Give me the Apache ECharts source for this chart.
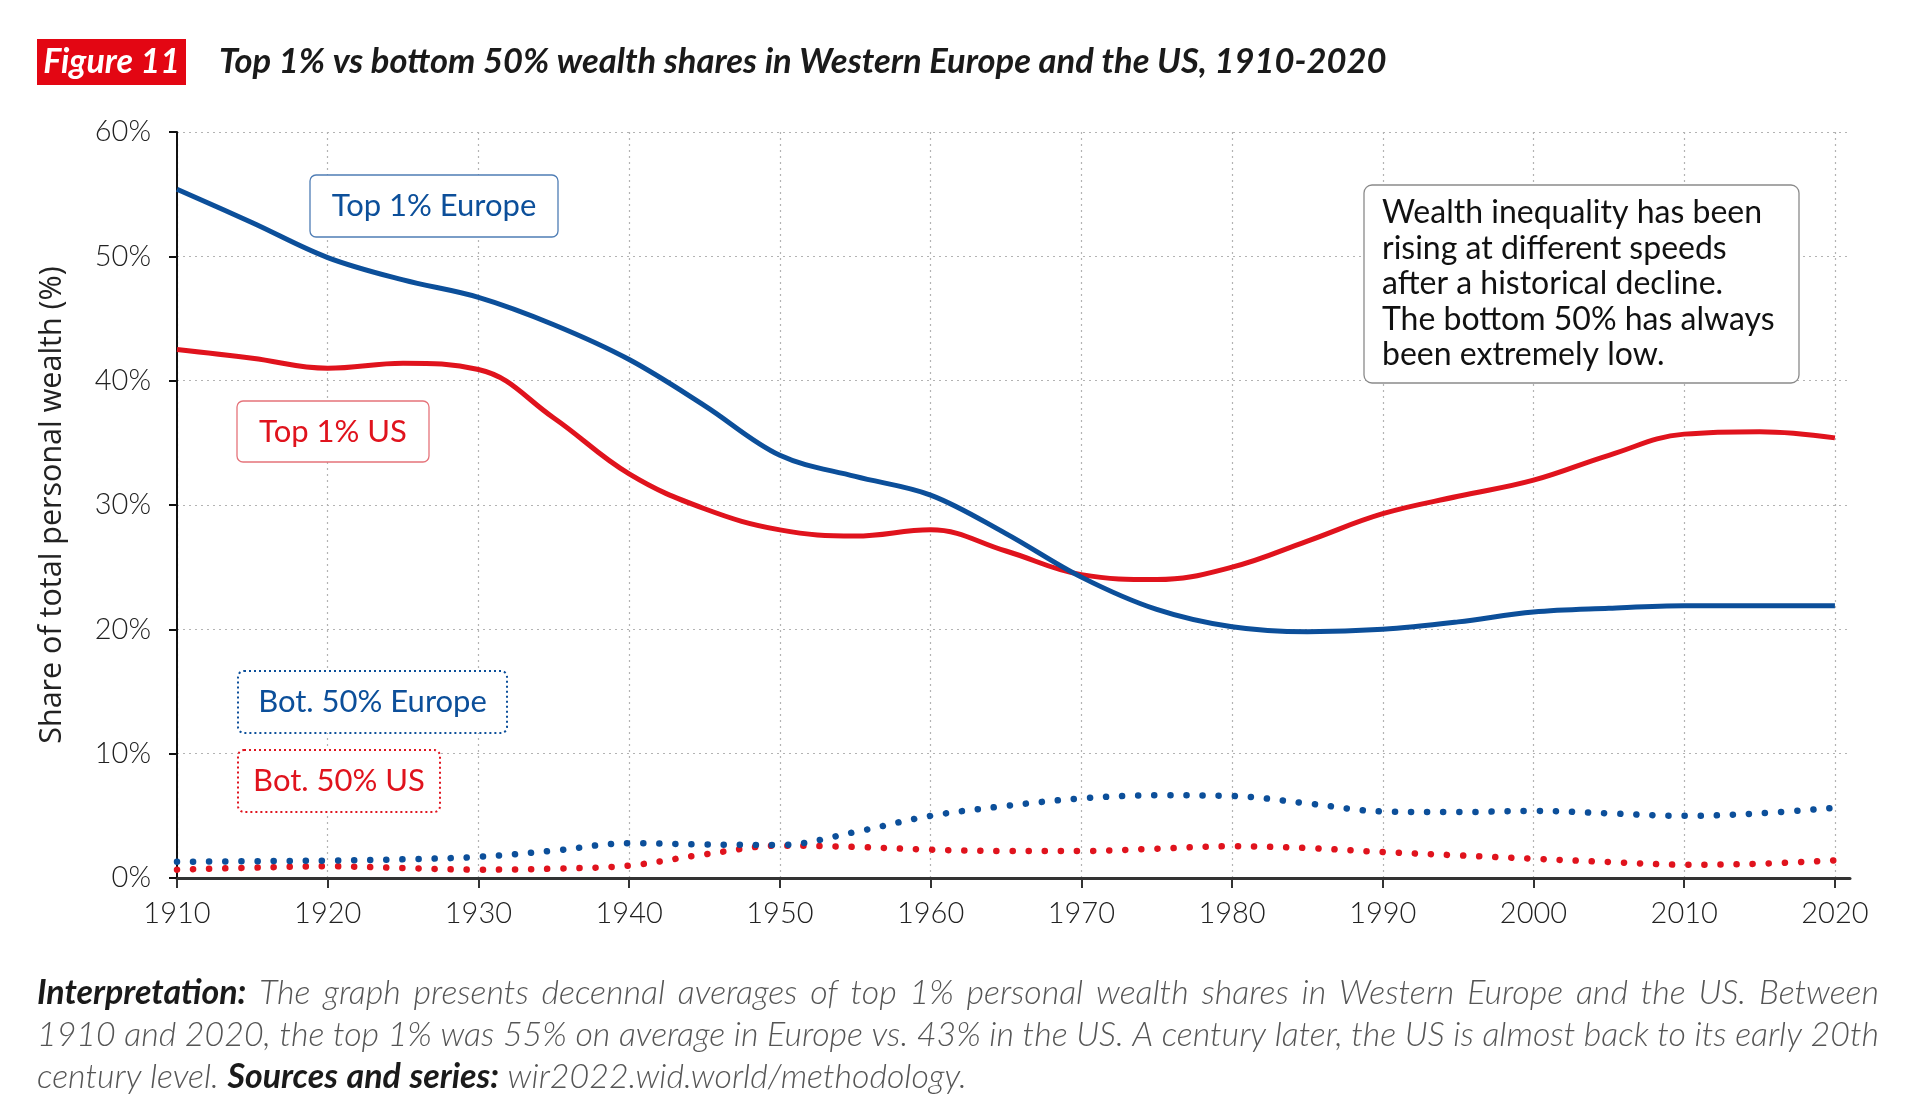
<!DOCTYPE html>
<html>
<head>
<meta charset="utf-8">
<title>Figure 11</title>
<script src="https://cdn.jsdelivr.net/npm/echarts@6/dist/echarts.min.js"></script>
<style>
  html, body { margin: 0; padding: 0; background: #fff; }
  #chart { width: 1920px; height: 1117px; }
</style>
</head>
<body>
<div id="chart"></div>
<script>
// decade marks on the x axis
var xTicks = [1910, 1920, 1930, 1940, 1950, 1960, 1970, 1980, 1990, 2000, 2010, 2020];
// years that the values below were read at (5-year steps)
var years = [1910, 1915, 1920, 1925, 1930, 1935, 1940, 1945, 1950, 1955, 1960, 1965,
             1970, 1975, 1980, 1985, 1990, 1995, 2000, 2005, 2010, 2015, 2020];
// shares of total personal wealth, %
var top1Europe = [55.4, 52.7, 49.9, 48.1, 46.7, 44.5, 41.7, 38.0, 34.0, 32.3, 30.8, 27.7,
                  24.2, 21.6, 20.2, 19.8, 20.0, 20.6, 21.4, 21.7, 21.9, 21.9, 21.9];
var top1US     = [42.5, 41.8, 41.0, 41.4, 40.9, 37.0, 32.5, 29.7, 28.0, 27.5, 28.0, 26.3,
                  24.4, 24.0, 25.0, 27.1, 29.3, 30.7, 32.0, 34.0, 35.7, 35.9, 35.4];
var bot50Europe = [1.3, 1.35, 1.4, 1.5, 1.7, 2.2, 2.8, 2.7, 2.65, 3.7, 5.0, 5.8,
                   6.4, 6.65, 6.6, 6.0, 5.35, 5.3, 5.4, 5.2, 5.0, 5.2, 5.65];
var bot50US     = [0.67, 0.83, 0.94, 0.8, 0.67, 0.75, 1.0, 1.9, 2.6, 2.5, 2.28, 2.17,
                   2.17, 2.36, 2.55, 2.41, 2.09, 1.82, 1.55, 1.29, 1.07, 1.15, 1.42];

var BLUE = '#0c4f9a';
var RED = '#e0131d';

// pair the years with a value array
function pairs(vals) {
  return years.map(function (y, i) { return [y, vals[i]]; });
}

// measure text so the long lines can be fitted to the width they have in the figure
var mctx = document.createElement('canvas').getContext('2d');
function textW(font, s) { mctx.font = font; return mctx.measureText(s).width; }

var titleText = 'Top 1% vs bottom 50% wealth shares in Western Europe and the US, 1910-2020';
var titleSize = Math.min(36, 35 * 1168 / textW('italic bold 35px Lato', titleText));

// footnote: b = bold, n = light; lines 1 and 2 are justified like the original
var noteLines = [
  [['b', 'Interpretation:'], ['n', 'The graph presents decennal averages of top 1% personal wealth shares in Western Europe and the US. Between']],
  [['n', '1910 and 2020, the top 1% was 55% on average in Europe vs. 43% in the US. A century later, the US is almost back to its early 20th']],
  [['n', 'century level.'], ['b', 'Sources and series:'], ['n', 'wir2022.wid.world/methodology.']]
];
var NOTE_X = 37, NOTE_W = 1842;
var noteY = [993, 1035, 1077];
function noteFont(kind, size) {
  return kind === 'b' ? 'italic bold ' + size + 'px Lato' : 'italic 300 ' + size + 'px Lato';
}
function words(parts) {
  var out = [];
  parts.forEach(function (p) {
    p[1].split(' ').forEach(function (w) { out.push([p[0], w]); });
  });
  return out;
}
function naturalW(parts, size) {
  var ws = words(parts);
  var sum = ws.reduce(function (s, w) { return s + textW(noteFont(w[0], size), w[1]); }, 0);
  return sum + (ws.length - 1) * textW(noteFont('n', size), ' ');
}
var noteSize = 30 * NOTE_W / naturalW(noteLines[1], 30);

var chartDom = document.getElementById('chart');
var myChart = echarts.init(chartDom, null, { renderer: 'canvas' });

function labelBox(x, y, w, h, color, borderColor, dotted, text) {
  return [
    {
      type: 'rect', z: 100,
      shape: { x: x, y: y, width: w, height: h, r: 6 },
      style: { fill: '#fff', stroke: borderColor, lineWidth: dotted ? 2 : 1.3, lineDash: dotted ? [2, 3] : null }
    },
    {
      type: 'text', z: 101, x: x + w / 2, y: y + h / 2,
      style: {
        text: text, fill: color, fontFamily: 'Lato', fontSize: 31,
        align: 'center', verticalAlign: 'middle', textAlign: 'center', textVerticalAlign: 'middle'
      }
    }
  ];
}

var graphics = [
  { type: 'rect', shape: { x: 37, y: 39, width: 149, height: 46 }, style: { fill: '#e30613' } },
  {
    type: 'text', x: 111.5, y: 62,
    style: {
      text: 'Figure 11', fill: '#fff', fontFamily: 'Lato', fontStyle: 'italic', fontWeight: 'bold', fontSize: 34,
      align: 'center', verticalAlign: 'middle', textAlign: 'center', textVerticalAlign: 'middle'
    }
  },
  {
    type: 'text', x: 219, y: 62,
    style: {
      text: titleText, fill: '#1a1a1a', fontFamily: 'Lato', fontStyle: 'italic', fontWeight: 'bold', fontSize: titleSize,
      align: 'left', verticalAlign: 'middle', textAlign: 'left', textVerticalAlign: 'middle'
    }
  },
  // annotation box
  {
    type: 'rect', z: 100,
    shape: { x: 1364, y: 185, width: 435, height: 198, r: 8 },
    style: { fill: '#fff', stroke: '#8a8a8a', lineWidth: 1.3 }
  },
  {
    type: 'text', z: 101, x: 1382, y: 284,
    style: {
      text: 'Wealth inequality has been\nrising at different speeds\nafter a historical decline.\nThe bottom 50% has always\nbeen extremely low.',
      fill: '#111', fontFamily: 'Lato', fontSize: 32, lineHeight: 35.5,
      align: 'left', verticalAlign: 'middle', textAlign: 'left', textVerticalAlign: 'middle'
    }
  }
];
graphics = graphics
  .concat(labelBox(310, 175, 248, 62, BLUE, '#4f7db5', false, 'Top 1% Europe'))
  .concat(labelBox(237, 401, 192, 61, RED, '#e5737a', false, 'Top 1% US'))
  .concat(labelBox(238, 671, 269, 62, BLUE, BLUE, true, 'Bot. 50% Europe'))
  .concat(labelBox(238, 750, 202, 62, RED, RED, true, 'Bot. 50% US'));

// place the footnote word by word so the first two lines are justified
noteLines.forEach(function (parts, i) {
  var ws = words(parts);
  var widths = ws.map(function (w) { return textW(noteFont(w[0], noteSize), w[1]); });
  var total = widths.reduce(function (a, b) { return a + b; }, 0);
  var gap = i < 2 ? (NOTE_W - total) / (ws.length - 1) : textW(noteFont('n', noteSize), ' ');
  var x = NOTE_X;
  ws.forEach(function (w, k) {
    graphics.push({
      type: 'text', x: x, y: noteY[i],
      style: {
        text: w[1], fill: w[0] === 'b' ? '#1a1a1a' : '#555',
        fontFamily: 'Lato', fontStyle: 'italic', fontWeight: w[0] === 'b' ? 'bold' : 300, fontSize: noteSize,
        align: 'left', verticalAlign: 'middle', textAlign: 'left', textVerticalAlign: 'middle'
      }
    });
    x += widths[k] + gap;
  });
});

var gridLine = { show: true, lineStyle: { color: '#b3b3b3', width: 1.2, type: [2, 4] } };

var option = {
  animation: false,
  backgroundColor: '#fff',
  grid: { left: 177, right: 70, top: 132, bottom: 239, containLabel: false },
  xAxis: {
    type: 'value', min: 1910, max: 2021, interval: 10,
    axisLine: { lineStyle: { color: '#333', width: 3 } },
    axisTick: { show: true, length: 10, lineStyle: { color: '#333', width: 2 }, customValues: xTicks },
    axisLabel: {
      customValues: xTicks,
      margin: 21, color: '#222', fontFamily: 'Lato', fontWeight: 300, fontSize: 29,
      formatter: function (v) { return v % 10 === 0 ? String(v) : ''; }
    },
    splitLine: gridLine
  },
  yAxis: {
    type: 'value', min: 0, max: 60, interval: 10,
    name: 'Share of total personal wealth (%)', nameLocation: 'middle', nameGap: 109, nameRotate: 90,
    nameTextStyle: { color: '#222', fontFamily: 'Open Sans', fontSize: 30.5 },
    axisLine: { show: true, lineStyle: { color: '#111', width: 2 } },
    axisTick: { show: true, length: 8, lineStyle: { color: '#111', width: 2 } },
    axisLabel: { margin: 26, color: '#222', fontFamily: 'Lato', fontWeight: 300, fontSize: 29, formatter: '{value}%' },
    splitLine: gridLine
  },
  series: [
    {
      name: 'Bot. 50% US', type: 'line', data: pairs(bot50US), smooth: 0.35, showSymbol: false,
      lineStyle: { color: RED, width: 6.5, type: [0.1, 16], cap: 'round' }
    },
    {
      name: 'Bot. 50% Europe', type: 'line', data: pairs(bot50Europe), smooth: 0.35, showSymbol: false,
      lineStyle: { color: BLUE, width: 6.5, type: [0.1, 16], cap: 'round' }
    },
    {
      name: 'Top 1% US', type: 'line', data: pairs(top1US), smooth: 0.4, showSymbol: false,
      lineStyle: { color: RED, width: 5 }
    },
    {
      name: 'Top 1% Europe', type: 'line', data: pairs(top1Europe), smooth: 0.35, showSymbol: false,
      lineStyle: { color: BLUE, width: 5 }
    }
  ],
  graphic: graphics
};

option && myChart.setOption(option);
</script>
</body>
</html>
